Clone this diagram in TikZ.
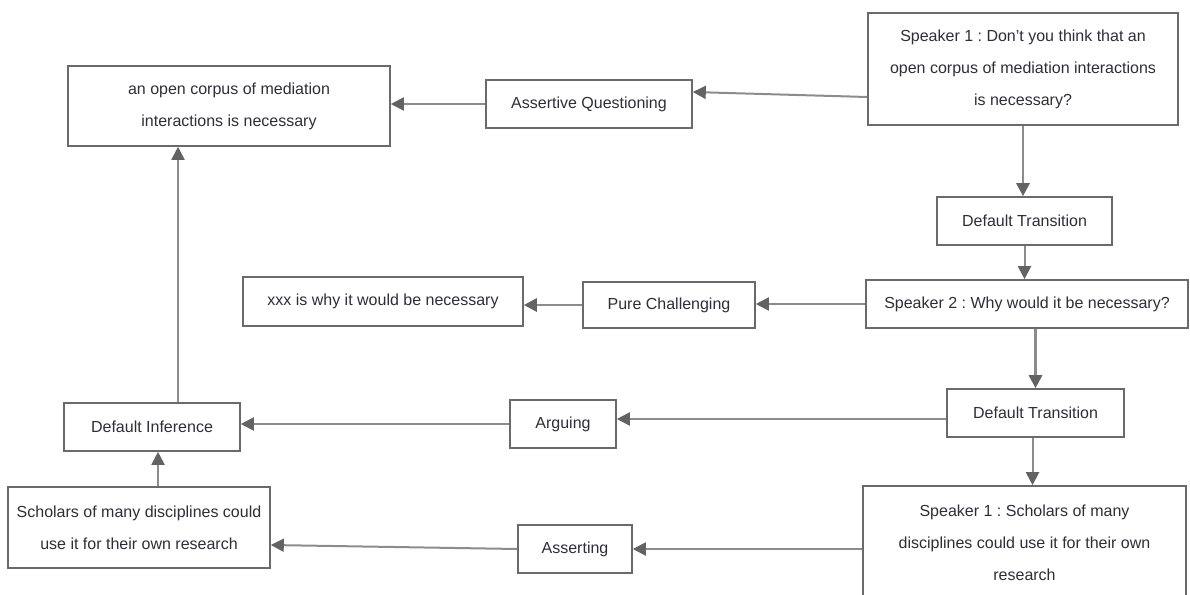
\documentclass[tikz,border=0pt]{standalone}
\usepackage{fontspec}
\setmainfont{Liberation Sans}
\usetikzlibrary{arrows.meta}
\frenchspacing
\definecolor{bx}{HTML}{6A6A6A}
\definecolor{ln}{HTML}{8C8C8C}
\definecolor{tipc}{HTML}{636363}
\definecolor{txt}{HTML}{2E2E3A}
\tikzset{
 box/.style={draw=bx, line width=1.6pt, fill=white, inner sep=0pt, align=center,
   font=\fontsize{16}{32}\selectfont, text=txt},
 conn/.style={draw=ln, line width=2pt, -{Triangle[length=13pt,width=13pt,color=tipc]}},
 thickconn/.style={conn, line width=2.8pt},
}
\begin{document}
\begin{tikzpicture}[x=1pt,y=-1pt]
\useasboundingbox (0,0) rectangle (1190,594);
\clip (0,0) rectangle (1190,594);
\node[box, minimum width=310pt, minimum height=112pt] (s1a) at (1023,69) {Speaker 1 : Don't you think that an\\open corpus of mediation interactions\\is necessary?};
\node[box, minimum width=322pt, minimum height=80pt] (oc) at (229,106) {an open corpus of mediation\\interactions is necessary};
\node[box, minimum width=206pt, minimum height=48pt] (aq) at (589,104) {Assertive Questioning};
\node[box, minimum width=175pt, minimum height=48pt] (dt1) at (1024.5,221) {Default Transition};
\node[box, minimum width=322pt, minimum height=48pt] (s2) at (1027,304) {Speaker 2 : Why would it be necessary?};
\node[box, minimum width=172pt, minimum height=46pt] (pc) at (669,305) {Pure Challenging};
\node[box, minimum width=280pt, minimum height=49pt] (xxx) at (383,301.5) {xxx is why it would be necessary};
\node[box, minimum width=177pt, minimum height=48pt] (dt2) at (1035.5,413) {Default Transition};
\node[box, minimum width=106pt, minimum height=48pt] (arg) at (563,424) {Arguing};
\node[box, minimum width=176pt, minimum height=48pt] (di) at (152,427) {Default Inference};
\node[box, minimum width=262pt, minimum height=81pt] (sch) at (139,527.5) {Scholars of many disciplines could\\use it for their own research};
\node[box, minimum width=114pt, minimum height=48pt] (ast) at (575,549) {Asserting};
\node[box, minimum width=323pt, minimum height=114pt] (s1b) at (1024.5,543) {Speaker 1 : Scholars of many\\disciplines could use it for their own\\research};

\draw[conn] ([yshift=-28pt]s1a.west) -- ([yshift=12pt]aq.east);
\draw[conn] (aq.west) -- (aq.west -| oc.east);
\draw[thickconn] (s1a.south) -- (s1a.south |- dt1.north);
\draw[conn] (dt1.south) -- (dt1.south |- s2.north);
\draw[conn] (s2.west) -- (s2.west -| pc.east);
\draw[thickconn] (pc.west) -- (pc.west -| xxx.east);
\draw[thickconn] (s2.south -| dt2.north) -- (dt2.north);
\draw[conn] ([yshift=-6pt]dt2.west) -- ([yshift=-6pt]dt2.west -| arg.east);
\draw[conn] (arg.west) -- (arg.west -| di.east);
\draw[conn] ([xshift=-3pt]dt2.south) -- ([xshift=-3pt]dt2.south |- s1b.north);
\draw[conn] (ast.east -| s1b.west) -- (ast.east);
\draw[conn] (ast.west) -- ([yshift=4pt]ast.west -| sch.east);
\draw[conn] ([xshift=19pt]sch.north) -- ([xshift=19pt]sch.north |- di.south);
\draw[conn] ([xshift=26pt]di.north) -- ([xshift=26pt]di.north |- oc.south);
\end{tikzpicture}
\end{document}
